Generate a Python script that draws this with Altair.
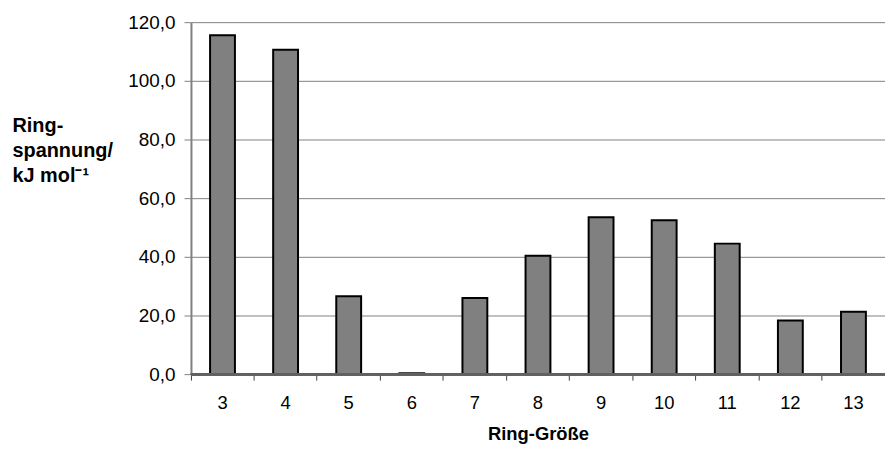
import altair as alt
import pandas as pd

ring_size = ["3", "4", "5", "6", "7", "8", "9", "10", "11", "12", "13"]
strain = [115.5, 110.6, 26.6, 0.3, 26.0, 40.4, 53.5, 52.5, 44.5, 18.3, 21.3]

df = pd.DataFrame({"size": ring_size, "strain": strain})

FONT = "Liberation Sans"

bars = alt.Chart(df).mark_bar(
    size=25, color="#808080", stroke="black", strokeWidth=2
).encode(
    x=alt.X(
        "size:N",
        sort=ring_size,
        scale=alt.Scale(paddingInner=0, paddingOuter=0),
        axis=alt.Axis(
            title="Ring-Größe",
            titleFont=FONT, titleFontSize=18.5, titleFontWeight="bold",
            titleColor="black", titleBaseline="alphabetic", titleY=66,
            labelFont=FONT, labelFontSize=18.5, labelColor="black",
            labelAngle=0, labelPadding=14,
            domain=False, ticks=True, tickColor="#404040", tickSize=6,
            bandPosition=0, grid=False,
        ),
    ),
    y=alt.Y(
        "strain:Q",
        scale=alt.Scale(domain=[0, 120], nice=False),
        axis=alt.Axis(
            values=[0, 20, 40, 60, 80, 100, 120],
            labelExpr="replace(format(datum.value, '.1f'), '.', ',')",
            labelFont=FONT, labelFontSize=19, labelColor="black",
            labelPadding=9,
            tickColor="#808080", tickSize=7,
            domainColor="#808080", domainWidth=2,
            grid=True, gridColor="#808080", gridWidth=1,
            title=["Ring-", "spannung/", "kJ mol⁻¹"],
            titleFont=FONT, titleFontSize=20, titleFontWeight="bold",
            titleColor="black", titleAngle=0, titleAlign="left",
            titleBaseline="alphabetic", titleX=-180, titleY=110,
            titleLineHeight=25,
        ),
    ),
)

baseline = alt.Chart(df).mark_rule(color="#606060", strokeWidth=2).encode(
    y=alt.datum(0)
)

chart = alt.layer(bars, baseline).properties(
    width=698, height=354,
    autosize=alt.AutoSizeParams(type="none"),
    padding={"left": 184, "top": 13, "right": 0, "bottom": 70},
).configure_view(stroke=None)

chart.save("out.html", embed_options={"renderer": "svg", "actions": False})
